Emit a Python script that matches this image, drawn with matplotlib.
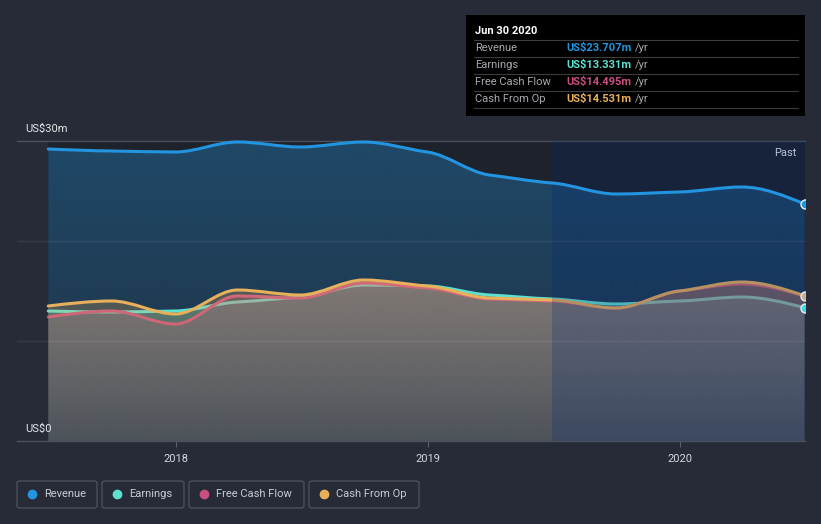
import numpy as np
import pandas as pd
import matplotlib
matplotlib.use("Agg")
import matplotlib.pyplot as plt
from matplotlib.path import Path
from matplotlib.patches import PathPatch, Rectangle, FancyBboxPatch
from matplotlib.lines import Line2D

plt.rcParams['font.family'] = ['Roboto', 'DejaVu Sans']

# quarterly data, US$ millions (trailing twelve months)
dates = ["2017-06-30", "2017-09-30", "2017-12-31", "2018-03-31", "2018-06-30",
         "2018-09-30", "2018-12-31", "2019-03-31", "2019-06-30", "2019-09-30",
         "2019-12-31", "2020-03-31", "2020-06-30"]
revenue = [29.2, 29.0, 28.9, 29.9, 29.4, 29.9, 28.9, 26.6, 25.8, 24.7, 24.9, 25.4, 23.707]
earnings = [13.0, 12.9, 13.0, 13.9, 14.4, 15.6, 15.5, 14.6, 14.2, 13.7, 14.0, 14.4, 13.331]
free_cash_flow = [12.4, 13.0, 11.7, 14.5, 14.3, 15.8, 15.3, 14.2, 14.0, 13.3, 15.0, 15.7, 14.495]
cash_from_op = [13.5, 14.0, 12.7, 15.1, 14.6, 16.1, 15.5, 14.3, 14.1, 13.3, 15.0, 15.9, 14.531]

series_names = ["Revenue", "Earnings", "Free Cash Flow", "Cash From Op"]
series_colors = ["#2394df", "#5ee0d0", "#c84f80", "#e8b05a"]
tooltip_values = ["US$23.707m", "US$13.331m", "US$14.495m", "US$14.531m"]
year_ticks = [2018, 2019, 2020]
past_start = "2019-06-30"

BG = "#262b37"
W, H = 821, 524


def dec_year(s):
    d = pd.Timestamp(s)
    n = 366 if d.is_leap_year else 365
    return d.year + (d.dayofyear - 1) / n


x = np.array([dec_year(d) for d in dates])


def monotone_path(xs, ys):
    xs = np.asarray(xs, float)
    ys = np.asarray(ys, float)
    n = len(xs)
    h = np.diff(xs)
    s = np.diff(ys) / h
    m = np.zeros(n)
    for i in range(1, n - 1):
        if s[i - 1] * s[i] <= 0:
            m[i] = 0
        else:
            p = (s[i - 1] * h[i] + s[i] * h[i - 1]) / (h[i - 1] + h[i])
            m[i] = np.sign(s[i - 1]) * min(abs(s[i - 1]), abs(s[i]), 0.5 * abs(p))
    m[0] = (3 * s[0] - m[1]) / 2
    m[-1] = (3 * s[-1] - m[-2]) / 2
    verts = [(xs[0], ys[0])]
    codes = [Path.MOVETO]
    for i in range(n - 1):
        d = h[i] / 3
        verts += [(xs[i] + d, ys[i] + d * m[i]), (xs[i + 1] - d, ys[i + 1] - d * m[i + 1]),
                  (xs[i + 1], ys[i + 1])]
        codes += [Path.CURVE4] * 3
    return verts, codes


fig = plt.figure(figsize=(W / 100, H / 100), dpi=100, facecolor=BG)
ax = fig.add_axes([17 / W, 1 - 441 / H, (805 - 17) / W, 300 / H])
ax.set_facecolor(BG)
x_left = 2018 - (176 - 17) / 252
x_right = 2020 + (805 - 680) / 252
ax.set_xlim(x_left, x_right)
ax.set_ylim(0, 30)
for sp in ax.spines.values():
    sp.set_visible(False)
ax.set_yticks([])
ax.set_xticks(year_ticks)
ax.set_xticklabels([str(t) for t in year_ticks], color="#d4d7dc", fontsize=8)
ax.tick_params(axis="x", length=4, color="#5a606b", pad=5)

xp = dec_year(past_start)
# dark backdrop behind the data
ax.add_patch(Rectangle((x[0], 0), x[-1] - x[0], 30, color="#1e222b", zorder=0.5, lw=0))


def gradient_fill(xs, ys, rgb, a_top, a_bot, y_top, z):
    verts, codes = monotone_path(xs, ys)
    verts = verts + [(xs[-1], 0), (xs[0], 0), (xs[0], ys[0])]
    codes = codes + [Path.LINETO, Path.LINETO, Path.CLOSEPOLY]
    patch = PathPatch(Path(verts, codes), facecolor="none", edgecolor="none")
    ax.add_patch(patch)
    yy = np.linspace(30, 0, 300)
    a = np.clip(a_bot + (a_top - a_bot) * yy / y_top, 0, a_top)
    img = np.zeros((300, 2, 4))
    img[..., :3] = np.array(rgb) / 255
    img[..., 3] = a[:, None]
    im = ax.imshow(img, extent=[x_left, x_right, 0, 30], aspect="auto", zorder=z,
                   interpolation="bilinear")
    im.set_clip_path(patch)


def curve(xs, ys, color, z, lw=2.2):
    verts, codes = monotone_path(xs, ys)
    ax.add_patch(PathPatch(Path(verts, codes), facecolor="none", edgecolor=color, lw=lw,
                           zorder=z, capstyle="round", joinstyle="round", clip_on=False))


gradient_fill(x, revenue, (35, 148, 223), 0.34, 0.14, 30, 1)
gradient_fill(x, earnings, (92, 224, 208), 0.27, 0.12, 16, 2)
curve(x, earnings, series_colors[1], 3)
gradient_fill(x, free_cash_flow, (205, 80, 135), 0.27, 0.12, 16, 4)
curve(x, free_cash_flow, series_colors[2], 5)
gradient_fill(x, cash_from_op, (235, 180, 95), 0.27, 0.12, 16, 6)
curve(x, cash_from_op, series_colors[3], 7)

# grid lines
for gy in [10, 20]:
    ax.axhline(gy, color="white", alpha=0.08, lw=1, zorder=7.5)
ax.plot([x_left, x_right], [30, 30], color="#4b515c", lw=1, zorder=0.6, clip_on=False)
ax.plot([x_left, x_right], [0, 0], color="#4b515c", lw=1, zorder=7.6, clip_on=False)

# past region overlay
ax.add_patch(Rectangle((xp, 0), x[-1] - xp, 30, color=(2 / 255, 40 / 255, 120 / 255),
                       alpha=0.22, zorder=8, lw=0))
curve(x, revenue, series_colors[0], 9)

for vals, fc in [(revenue, "#2394df"), (earnings, "#3fd6dc"), (cash_from_op, "#c9b08e")]:
    ax.plot([x[-1]], [vals[-1]], "o", ms=6.5, mfc=fc, mec="#e8eef5", mew=1.0, zorder=10)

ax.text(796 / W, 1 - 153 / H, "Past", transform=fig.transFigure, color="#f0f0f0",
        fontsize=8, ha="right", va="center")
fig.text(25 / W, 1 - 129 / H, "US$30m", color="#e4e6ea", fontsize=8, va="center")
fig.text(25 / W, 1 - 429 / H, "US$0", color="#e4e6ea", fontsize=8, va="center", zorder=20)

# tooltip box
fig.add_artist(Rectangle((466 / W, 1 - 116 / H), (805 - 466) / W, 101 / H,
                         transform=fig.transFigure, color="#000000", lw=0))
fig.text(475 / W, 1 - 31 / H, "Jun 30 2020", color="white", fontsize=8, fontweight="bold",
         va="center")
for sy in [40, 57, 74, 91, 108]:
    fig.add_artist(Line2D([474 / W, 798 / W], [1 - sy / H] * 2, transform=fig.transFigure,
                          color="#3c3c3c", lw=0.8))
fig.canvas.draw()
renderer = fig.canvas.get_renderer()
for i, (name, val, col) in enumerate(zip(series_names, tooltip_values, series_colors)):
    ry = 1 - (48 + 17 * i) / H
    fig.text(475 / W, ry, name, color="#a6a9ae", fontsize=8, va="center")
    t = fig.text(566 / W, ry, val, color=col, fontsize=8, fontweight="bold", va="center")
    bb = t.get_window_extent(renderer)
    fig.text((bb.x1 + 4) / W, ry, "/yr", color="#a6a9ae", fontsize=8, va="center")

# legend
legend_boxes = [(17, 97), (102, 184), (189, 304), (309, 419)]
for (bx0, bx1), name, col in zip(legend_boxes, series_names, series_colors):
    fig.add_artist(FancyBboxPatch((bx0 / W, 1 - 508 / H), (bx1 - bx0) / W, 27 / H,
                                  boxstyle="round,pad=0,rounding_size=0.004",
                                  transform=fig.transFigure, facecolor="none",
                                  edgecolor="#4b515c", lw=1))
    fig.add_artist(Line2D([(bx0 + 15) / W], [1 - 494 / H], marker="o", ms=6, color=col,
                          transform=fig.transFigure, lw=0))
    fig.text((bx0 + 27) / W, 1 - 494 / H, name, color="#c8ccd2", fontsize=8, va="center")

fig.savefig("out.png", dpi=100, facecolor=BG)
